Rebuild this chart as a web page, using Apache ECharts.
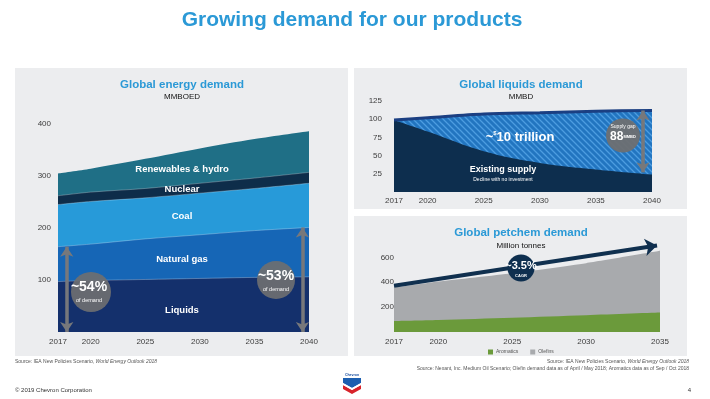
<!DOCTYPE html>
<html>
<head>
<meta charset="utf-8">
<script src="https://cdn.jsdelivr.net/npm/echarts@6/dist/echarts.min.js"></script>
<style>
  html, body { margin: 0; padding: 0; background: #fff; }
  #chart { width: 710px; height: 399px; }
</style>
</head>
<body>
<div id="chart"></div>
<script>
const FONT = '"Liberation Sans", Arial, sans-serif'

// Global energy demand (MMBOED)
const energyYears = [2017, 2020, 2025, 2030, 2035, 2040]
const energyXTicks = [2017, 2020, 2025, 2030, 2035, 2040]
const energyYTicks = [100, 200, 300, 400]
const liquids = [97, 99, 101, 103, 105, 106]
const naturalGas = [67, 70, 78, 84, 90, 95]
const coal = [81, 82, 79, 80, 81, 85]
const nuclear = [17, 18, 18, 19, 20, 21]
const renewables = [43, 45, 57, 67, 75, 79]

// Global liquids demand (MMBD)
const liquidsYears = [2017, 2020, 2025, 2030, 2035, 2040]
const liquidsXTicks = [2017, 2020, 2025, 2030, 2035, 2040]
const liquidsYTicks = [25, 50, 75, 100, 125]
const liquidsDemand = [99, 102, 107, 109, 111, 112]
const existingSupply = [99, 83, 56, 40, 31, 24]

// Global petchem demand (million tonnes)
const petchemYears = [2017, 2020, 2025, 2030, 2035]
const petchemXTicks = [2017, 2020, 2025, 2030, 2035]
const petchemYTicks = [200, 400, 600]
const aromatics = [89, 97, 115, 135, 156]
const olefins = [268, 309, 358, 419, 497]

// running totals, so each layer is drawn from the axis up to its top edge
function cumulate(...layers) {
  return layers[0].map((_, i) => layers.reduce((s, l) => s + l[i], 0))
}
function pairs(xs, ys) {
  return xs.map((x, i) => [x, ys[i]])
}

function hatch() {
  const c = document.createElement('canvas')
  c.width = 6
  c.height = 6
  const g = c.getContext('2d')
  g.fillStyle = '#2275c0'
  g.fillRect(0, 0, 6, 6)
  g.strokeStyle = '#4d9de0'
  g.lineWidth = 1.3
  g.beginPath()
  g.moveTo(-1, -1); g.lineTo(7, 7)
  g.moveTo(-1, 5); g.lineTo(1, 7)
  g.moveTo(5, -1); g.lineTo(7, 1)
  g.stroke()
  return c
}

function xAxisFor(grid, min, max, ticks, margin) {
  return {
    type: 'value', gridIndex: grid, min, max, interval: 1,
    axisLine: { show: false }, axisTick: { show: false }, splitLine: { show: false },
    axisLabel: {
      margin, fontSize: 8, fontFamily: FONT, color: '#3c3c3c',
      formatter: v => ticks.includes(v) ? String(v) : ''
    }
  }
}
function yAxisFor(grid, max, interval, ticks, margin) {
  return {
    type: 'value', gridIndex: grid, min: 0, max, interval,
    axisLine: { show: false }, axisTick: { show: false }, splitLine: { show: false },
    axisLabel: {
      margin, fontSize: 8, fontFamily: FONT, color: '#3c3c3c',
      formatter: v => ticks.includes(v) ? String(v) : ''
    }
  }
}
function area(name, axis, data, color, extra) {
  return Object.assign({
    name, type: 'line', xAxisIndex: axis, yAxisIndex: axis, data,
    symbol: 'none', silent: true, emphasis: { disabled: true }, smooth: 0.3,
    lineStyle: { width: 0.8, color: 'rgba(255,255,255,0.35)' },
    areaStyle: { color, opacity: 1 }
  }, extra || {})
}

function text(x, y, str, font, fill, align) {
  return {
    type: 'text', x, y, z: 100, silent: true,
    style: { text: str, font, fill, align: align || 'center', verticalAlign: 'middle' }
  }
}
function circle(cx, cy, r, fill) {
  return { type: 'circle', z: 99, silent: true, shape: { cx, cy, r }, style: { fill } }
}
function rect(x, y, w, h, fill) {
  return { type: 'rect', z: -10, silent: true, shape: { x, y, width: w, height: h }, style: { fill } }
}

const blue = '#2b99d6'
const grayArrow = {
  silent: true, animation: false, symbol: ['arrow', 'arrow'], symbolSize: [10, 10],
  label: { show: false }, lineStyle: { color: '#77787b', width: 3.5, type: 'solid' }
}

const chart = echarts.init(document.getElementById('chart'))
chart.setOption({
  animation: false,
  textStyle: { fontFamily: FONT },
  grid: [
    { left: 58, top: 124, width: 251, height: 208 },
    { left: 394, top: 101, width: 258, height: 91 },
    { left: 394, top: 245, width: 266, height: 87 }
  ],
  xAxis: [
    xAxisFor(0, 2017, 2040, energyXTicks, 6),
    xAxisFor(1, 2017, 2040, liquidsXTicks, 5),
    xAxisFor(2, 2017, 2035, petchemXTicks, 6)
  ],
  yAxis: [
    yAxisFor(0, 400, 100, energyYTicks, 7),
    yAxisFor(1, 125, 25, liquidsYTicks, 12),
    yAxisFor(2, 700, 100, petchemYTicks, 0)
  ],
  legend: {
    left: 488, top: 349.5, padding: 0, itemWidth: 5, itemHeight: 5, itemGap: 12,
    icon: 'rect', data: ['Aromatics', 'Olefins'],
    textStyle: { fontSize: 5, color: '#555', padding: [0, 0, 0, -2] }
  },
  series: [
    area('Renewables & hydro', 0, pairs(energyYears, cumulate(liquids, naturalGas, coal, nuclear, renewables)), '#1f6f86',
      { lineStyle: { width: 0 } }),
    area('Nuclear', 0, pairs(energyYears, cumulate(liquids, naturalGas, coal, nuclear)), '#0e2d4a'),
    area('Coal', 0, pairs(energyYears, cumulate(liquids, naturalGas, coal)), '#279ad9'),
    area('Natural gas', 0, pairs(energyYears, cumulate(liquids, naturalGas)), '#1666b6'),
    area('Liquids', 0, pairs(energyYears, liquids), '#14306c', {
      markLine: Object.assign({}, grayArrow, {
        data: [
          [{ coord: [2017.8, 0] }, { coord: [2017.8, liquids[0] + naturalGas[0]] }],
          [{ coord: [2039.4, 0] }, { coord: [2039.4, liquids[5] + naturalGas[5]] }]
        ]
      })
    }),

    area('Liquids demand', 1, pairs(liquidsYears, liquidsDemand), { image: hatch(), repeat: 'repeat' },
      { lineStyle: { width: 3, color: '#1b3f82' } }),
    area('Existing supply', 1, pairs(liquidsYears, existingSupply), '#0d2e4e', {
      smooth: 0.4, lineStyle: { width: 0 },
      markLine: Object.assign({}, grayArrow, {
        data: [[{ coord: [2039.2, existingSupply[5] + 3] }, { coord: [2039.2, liquidsDemand[5]] }]]
      })
    }),

    area('Olefins', 2, pairs(petchemYears, cumulate(aromatics, olefins)), '#a8aaad', {
      smooth: 0.2, lineStyle: { width: 0 }, itemStyle: { color: '#a8aaad' },
      markLine: {
        silent: true, animation: false, symbol: ['none', 'arrow'], symbolSize: [13, 12],
        label: { show: false }, lineStyle: { color: '#10304f', width: 4, type: 'solid' },
        data: [[{ coord: [2017, 372] }, { coord: [2034.8, 696] }]]
      }
    }),
    area('Aromatics', 2, pairs(petchemYears, aromatics), '#6b9a3b', {
      lineStyle: { width: 0 }, itemStyle: { color: '#6b9a3b' }
    })
  ],
  graphic: { elements: [
    rect(15, 68, 333, 288, '#ecedef'),
    rect(354, 68, 333, 141, '#ecedef'),
    rect(354, 216, 333, 140, '#ecedef'),

    text(352, 20, 'Growing demand for our products', 'bold 21px ' + FONT, blue),

    text(182, 85, 'Global energy demand', 'bold 11.5px ' + FONT, blue),
    text(182, 97, 'MMBOED', '8px ' + FONT, '#111'),
    text(182, 169.5, 'Renewables & hydro', 'bold 9.5px ' + FONT, '#fff'),
    text(182, 189, 'Nuclear', 'bold 9.5px ' + FONT, '#fff'),
    text(182, 216.5, 'Coal', 'bold 9.5px ' + FONT, '#fff'),
    text(182, 259.5, 'Natural gas', 'bold 9.5px ' + FONT, '#fff'),
    text(182, 310.5, 'Liquids', 'bold 9.5px ' + FONT, '#fff'),
    circle(91, 292, 20, 'rgba(110,111,113,0.92)'),
    text(89, 287.5, '~54%', 'bold 14px ' + FONT, '#fff'),
    text(89, 300, 'of demand', '5.5px ' + FONT, '#fff'),
    circle(276, 280, 19, 'rgba(110,111,113,0.92)'),
    text(276, 276.5, '~53%', 'bold 14px ' + FONT, '#fff'),
    text(276, 289.5, 'of demand', '5.5px ' + FONT, '#fff'),

    text(521, 85, 'Global liquids demand', 'bold 11.5px ' + FONT, blue),
    text(521, 97, 'MMBD', '8px ' + FONT, '#111'),
    {
      type: 'text', x: 520, y: 137, z: 100, silent: true,
      style: {
        text: '{a|~}{s|$}{a|10 trillion}', align: 'center', verticalAlign: 'middle',
        rich: {
          a: { font: 'bold 13px ' + FONT, fill: '#fff' },
          s: { font: 'bold 6px ' + FONT, fill: '#fff', verticalAlign: 'top', padding: [0, 0, 6, 0] }
        }
      }
    },
    text(503, 169.5, 'Existing supply', 'bold 9px ' + FONT, '#fff'),
    text(503, 179.5, 'Decline with no investment', '5px ' + FONT, '#fff'),
    circle(623, 135.5, 17, 'rgba(110,111,113,0.95)'),
    text(623, 127, 'Supply gap', '5px ' + FONT, '#fff'),
    {
      type: 'text', x: 623, y: 137, z: 100, silent: true,
      style: {
        text: '{b|88}{m|MMBD}', align: 'center', verticalAlign: 'middle',
        rich: {
          b: { font: 'bold 12px ' + FONT, fill: '#fff' },
          m: { font: 'bold 4px ' + FONT, fill: '#fff' }
        }
      }
    },

    text(521, 232.5, 'Global petchem demand', 'bold 11.5px ' + FONT, blue),
    text(521, 245.5, 'Million tonnes', '8px ' + FONT, '#111'),
    circle(521, 268, 13.5, '#0e2f4f'),
    text(521, 266, '~3.5%', 'bold 11px ' + FONT, '#fff'),
    text(521, 276, 'CAGR', 'bold 4px ' + FONT, '#fff'),

    {
      type: 'text', x: 15, y: 362, z: 100, silent: true,
      style: {
        text: '{r|Source: IEA New Policies Scenario, }{i|World Energy Outlook 2018}', align: 'left', verticalAlign: 'middle',
        rich: { r: { font: '5px ' + FONT, fill: '#555' }, i: { font: 'italic 5px ' + FONT, fill: '#555' } }
      }
    },
    {
      type: 'text', x: 689, y: 362, z: 100, silent: true,
      style: {
        text: '{r|Source: IEA New Policies Scenario, }{i|World Energy Outlook 2018}', align: 'right', verticalAlign: 'middle',
        rich: { r: { font: '5px ' + FONT, fill: '#555' }, i: { font: 'italic 5px ' + FONT, fill: '#555' } }
      }
    },
    text(689, 369, 'Source: Nexant, Inc. Medium Oil Scenario; Olefin demand data as of April / May 2018; Aromatics data as of Sep / Oct 2018',
      '5px ' + FONT, '#555', 'right'),
    text(15, 390, '\u00a9 2019 Chevron Corporation', '6px ' + FONT, '#333', 'left'),
    text(691, 390, '4', '6px ' + FONT, '#333', 'right'),

    // Chevron mark
    text(352, 375, 'Chevron', 'bold 3.5px ' + FONT, '#1a4fa0'),
    { type: 'polygon', z: 100, silent: true, shape: { points: [[343, 378], [361, 378], [361, 383], [352, 388], [343, 383]] }, style: { fill: '#1c5fb0' } },
    { type: 'polygon', z: 101, silent: true, shape: { points: [[343, 383], [352, 388], [361, 383], [361, 385], [352, 390], [343, 385]] }, style: { fill: '#fff' } },
    { type: 'polygon', z: 100, silent: true, shape: { points: [[343, 385], [352, 390], [361, 385], [361, 389], [352, 394], [343, 389]] }, style: { fill: '#d8232a' } }
  ] }
})
</script>
</body>
</html>
